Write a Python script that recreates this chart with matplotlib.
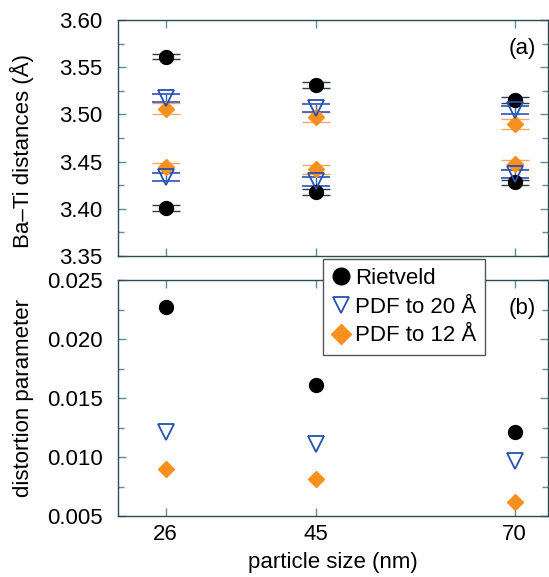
import matplotlib
matplotlib.use('Agg')
import matplotlib.pyplot as plt
from matplotlib.ticker import MultipleLocator
from matplotlib.lines import Line2D

plt.rcParams['font.family'] = ['Liberation Sans', 'DejaVu Sans']

sizes = [26, 45, 70]

# Ba-Ti distances (long and short), with errors
riet_long = [3.561, 3.531, 3.515]
riet_long_err = [0.0028, 0.003, 0.003]
riet_short = [3.401, 3.418, 3.428]
riet_short_err = [0.0028, 0.0035, 0.0028]
pdf20_long = [3.517, 3.507, 3.505]
pdf20_long_err = [0.0043, 0.0043, 0.0043]
pdf20_short = [3.434, 3.429, 3.437]
pdf20_short_err = [0.0044, 0.0044, 0.0044]
pdf12_long = [3.506, 3.497, 3.490]
pdf12_long_err = [0.0056, 0.0055, 0.0052]
pdf12_short = [3.444, 3.442, 3.447]
pdf12_short_err = [0.005, 0.0048, 0.005]

# distortion parameter
riet_dist = [0.0227, 0.0161, 0.0121]
pdf20_dist = [0.0121, 0.0111, 0.0097]
pdf12_dist = [0.0090, 0.0081, 0.0062]

labels = ['Rietveld', 'PDF to 20 \u00c5', 'PDF to 12 \u00c5']

black = 'black'
blue = '#2650b0'
orange = '#f7901e'
spine_col = '#2e4a52'
tick_col = '#5f8d94'
fs = 16

fig = plt.figure(figsize=(5.49, 5.77), dpi=100)
ax1 = fig.add_axes([0.2149, 0.5563, 0.783, 0.409])
ax2 = fig.add_axes([0.2149, 0.1057, 0.783, 0.409])

cap = 10
ms = 10

for vals, errs in [(riet_long, riet_long_err), (riet_short, riet_short_err)]:
    ax1.errorbar(sizes, vals, yerr=errs, fmt='o', color=black, ms=ms,
                 ecolor='#30404a', elinewidth=1, capsize=cap, capthick=1)
for vals, errs in [(pdf12_long, pdf12_long_err), (pdf12_short, pdf12_short_err)]:
    ax1.errorbar(sizes, vals, yerr=errs, fmt='D', color=orange, ms=8.5,
                 ecolor='#f5a860', elinewidth=1, capsize=cap, capthick=1)
for vals, errs in [(pdf20_long, pdf20_long_err), (pdf20_short, pdf20_short_err)]:
    ax1.errorbar(sizes, vals, yerr=errs, fmt='v', mfc='none', mec=blue, mew=1.3,
                 ms=11, ecolor='#4060c0', elinewidth=1, capsize=cap, capthick=1)

ax2.plot(sizes, riet_dist, 'o', color=black, ms=ms)
ax2.plot(sizes, pdf20_dist, 'v', mfc='none', mec=blue, mew=1.3, ms=11)
ax2.plot(sizes, pdf12_dist, 'D', color=orange, ms=8.5)

ax1.set_ylim(3.35, 3.60)
ax1.yaxis.set_major_locator(MultipleLocator(0.05))
ax1.yaxis.set_minor_locator(MultipleLocator(0.025))
ax1.yaxis.set_major_formatter(plt.FormatStrFormatter('%.2f'))
ax2.set_ylim(0.005, 0.025)
ax2.yaxis.set_major_locator(MultipleLocator(0.005))
ax2.yaxis.set_minor_locator(MultipleLocator(0.0025))
ax2.yaxis.set_major_formatter(plt.FormatStrFormatter('%.3f'))

for ax in (ax1, ax2):
    ax.set_xlim(20, 74.2)
    ax.set_xticks(sizes)
    ax.tick_params(which='both', direction='in', top=True, right=True,
                   color=tick_col, labelsize=fs)
    ax.tick_params(axis='y', pad=11)
    ax.tick_params(axis='x', pad=6)
    ax.tick_params(which='major', length=6, width=1)
    ax.tick_params(which='minor', length=4, width=1)
    for s in ax.spines.values():
        s.set_color(spine_col)
        s.set_linewidth(1)

ax1.tick_params(labelbottom=False)
ax2.set_xticklabels([str(s) for s in sizes])

ax1.set_ylabel('Ba\u2013Ti distances (\u00c5)', fontsize=fs)
ax2.set_ylabel('distortion parameter', fontsize=fs)
ax2.set_xlabel('particle size (nm)', fontsize=fs, labelpad=5)
ax1.yaxis.set_label_coords(-0.195, 0.445)
ax2.yaxis.set_label_coords(-0.195, 0.5)

ax1.text(0.972, 0.88, '(a)', transform=ax1.transAxes, fontsize=fs,
         ha='right', va='center')
ax2.text(0.972, 0.88, '(b)', transform=ax2.transAxes, fontsize=fs,
         ha='right', va='center')

handles = [
    Line2D([], [], ls='none', marker='o', color=black, ms=12),
    Line2D([], [], ls='none', marker='v', mfc='none', mec=blue, mew=1.3, ms=12),
    Line2D([], [], ls='none', marker='D', color=orange, ms=10),
]
leg = fig.legend(handles, labels, loc='upper left',
                 bbox_to_anchor=(323 / 549, 1 - 259 / 577),
                 fontsize=fs, frameon=True, fancybox=False,
                 handlelength=0.8, handletextpad=0.23, borderpad=0.4,
                 labelspacing=0.35, borderaxespad=0)
leg.get_frame().set_edgecolor('#555555')
leg.get_frame().set_linewidth(1)
leg.get_frame().set_alpha(1)

fig.savefig('out.png', dpi=100)
